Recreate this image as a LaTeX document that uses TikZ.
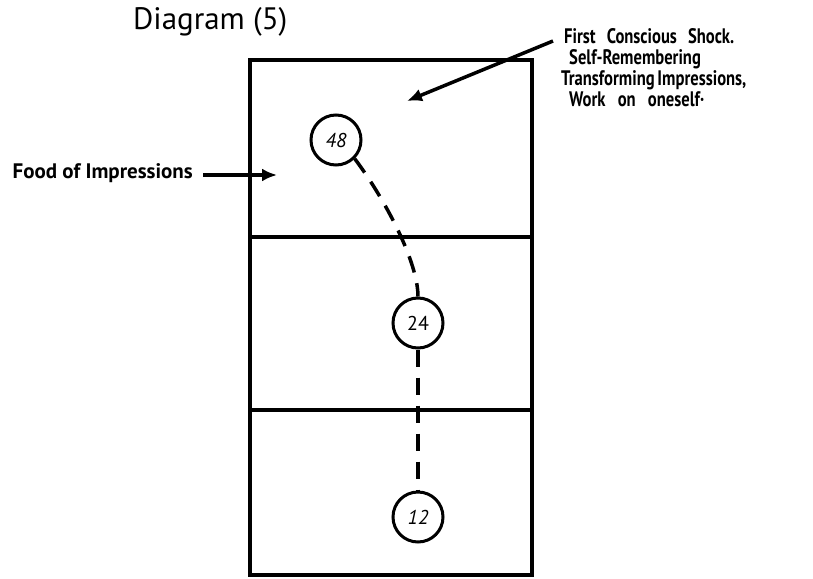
\documentclass[tikz,border=0pt]{standalone}
\usepackage{fontspec}
\setmainfont{PT Sans}
\newfontfamily\notefont[FakeStretch=0.79]{PT Sans}
\usetikzlibrary{arrows.meta}
\tikzset{
  wall/.style={line width=3.5pt},
  note/.style={font=\notefont\bfseries\fontsize{21}{21}\selectfont,inner sep=0pt},
  inlabel/.style={font=\bfseries\fontsize{21}{21}\selectfont,inner sep=0pt},
  stage/.style={circle,draw,line width=3pt,minimum size=50pt,inner sep=0pt,
    font=\fontsize{20}{20}\selectfont},
  route/.style={line width=3.5pt,dash pattern=on 17pt off 11pt},
  feed/.style={line width=3.5pt,-{Latex[length=15pt,width=13pt]}}
}

\begin{document}
\begin{tikzpicture}[x=1pt,y=-1pt]
\useasboundingbox (0,0) rectangle (813,578);
\node[font=\fontsize{31}{31}\selectfont,anchor=base west,inner sep=0pt] (title) at (133,30) {Diagram (5)};
% the three storeys
\draw[wall] (250,60) rectangle (532,575);
\draw[wall] (250,237) -- (532,237);
\draw[wall] (250,410) -- (532,410);
\node[stage] (n48) at (336,140) {\itshape 48};
\node[stage] (n24) at (418,323) {24};
\node[stage] (n12) at (418,517) {\itshape 12};
\draw[route] (n48.-45) .. controls +(30,40) and +(0,-35) .. (n24.north);
\draw[route] (n24.south) -- (n12.north);
% labels
\node[inlabel,anchor=base east] (food) at (193,178) {Food of Impressions};
\coordinate (foodin) at (277,175);
\draw[feed] ([xshift=10pt,yshift=3pt]food.base east) -- (foodin);
\node[note,anchor=north west,align=left] (shock) at (561,28)
  {\hspace*{3pt}\makebox[170pt][s]{First Conscious Shock.}\\
   \hspace*{8pt}Self-Remembering\\
   \makebox[185pt][s]{Transforming Impressions,}\\
   \hspace*{8pt}\makebox[135pt][s]{Work on oneself\textperiodcentered}};
\coordinate (shockin) at (407,101);
\draw[feed] ([shift={(-8,13)}]shock.north west) -- (shockin);
\end{tikzpicture}
\end{document}
